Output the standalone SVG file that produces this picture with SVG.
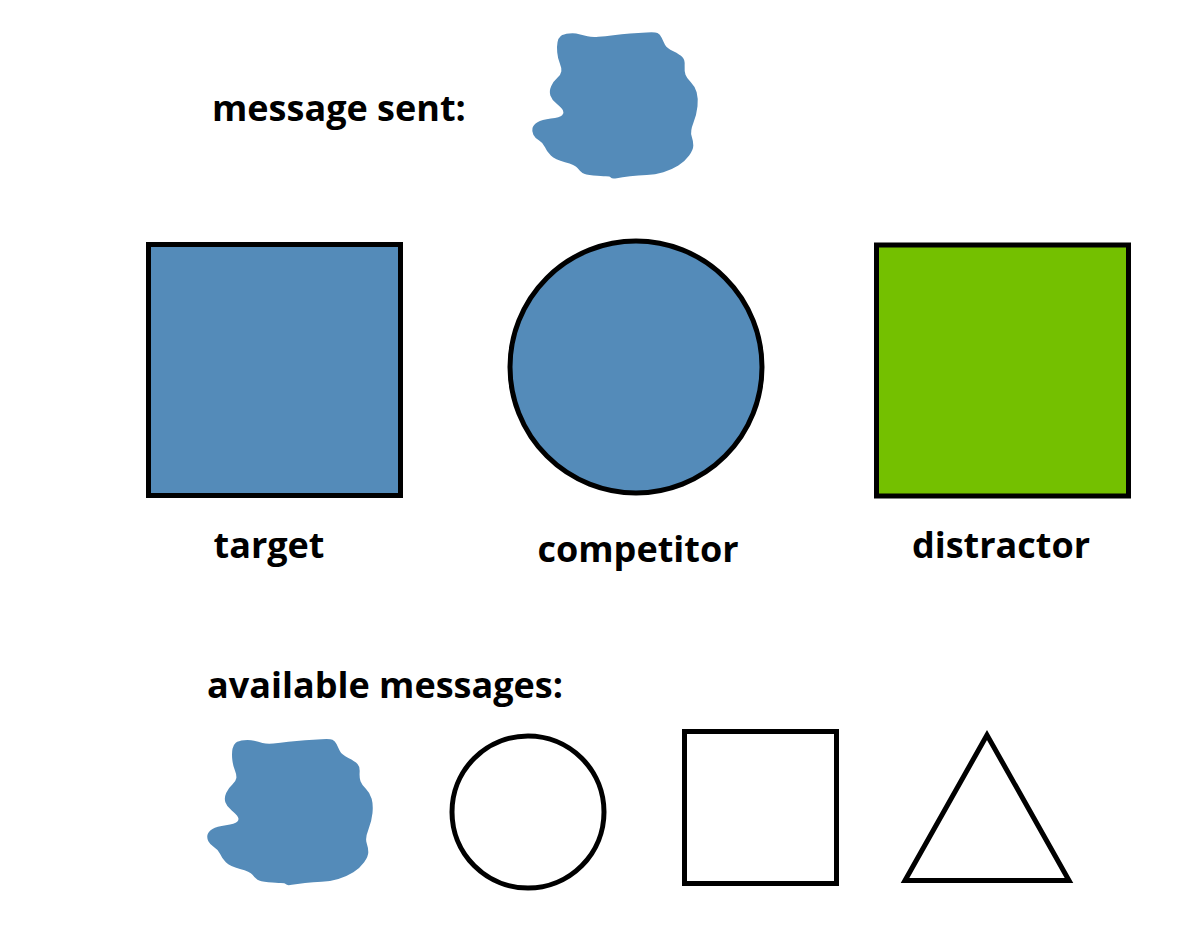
<svg xmlns="http://www.w3.org/2000/svg" xmlns:xlink="http://www.w3.org/1999/xlink" width="1180" height="949" viewBox="0 0 1180 949">
<style>
.lbl{font-family:"Open Sans","Liberation Sans",sans-serif;font-weight:700;font-size:36px;fill:#000}
.shape{stroke:#000;stroke-width:5}
.blue{fill:#548bb9}
.green{fill:#74c000}
.empty{fill:#fff}
</style>
<defs>
<path id="blob" d="M557.5,42.15 Q558.3,38 560.8,36 Q563.3,34 569.15,33.5 Q575,33 579.15,34.15 Q583.3,35.3 587.5,36.3 Q591.7,37.3 598.35,36.8 Q605,36.3 613.35,35.15 Q621.7,34 630,33.5 Q638.3,33 646.65,32.5 Q655,32 657.5,33 Q660,34 661.65,37.65 Q663.3,41.3 665,44.65 Q666.7,48 673.35,51.35 Q680,54.7 682.5,57.2 Q685,59.7 684.65,65.5 Q684.3,71.3 685.5,74.65 Q686.7,78 690.85,82.15 Q695,86.3 696.65,92.15 Q698.3,98 697.5,106.35 Q696.7,114.7 693.35,123 Q690,131.3 691.65,136.3 Q693.3,141.3 693.3,145.5 Q693.3,149.7 689.15,155.5 Q685,161.3 678.35,165.5 Q671.7,169.7 663.35,172.2 Q655,174.7 646.65,175 Q638.3,175.3 630,176.3 Q621.7,177.3 616.85,178.15 Q612,179 611,177.65 Q610,176.3 605.85,176.3 Q601.7,176.3 593.35,175.5 Q585,174.7 582.5,173 Q580,171.3 577.5,168 Q575,164.7 565,162.2 Q555,159.7 550.85,155.5 Q546.7,151.3 545,147.15 Q543.3,143 539.15,140.5 Q535,138 533.35,134.65 Q531.7,131.3 532.5,128 Q533.3,124.7 537.5,122.2 Q541.7,119.7 550.85,118.5 Q560,117.3 562.15,115.15 Q564.3,113 563,110.5 Q561.7,108 556.7,103.85 Q551.7,99.7 550.35,95.5 Q549,91.3 551.15,86.3 Q553.3,81.3 557.15,78 Q561,74.7 561.35,71.35 Q561.7,68 559.7,63 Q557.7,58 557.2,52.15 Q556.7,46.3 557.5,42.15 Z"/>
</defs>
<g id="message-sent">
<text class="lbl" x="212" y="121">message sent:</text>
<use id="sent-blob" xlink:href="#blob" href="#blob" class="blue"/>
</g>
<g id="target">
<rect class="shape blue" x="148.5" y="244.5" width="252" height="251"/>
<text class="lbl" x="269" y="558" text-anchor="middle">target</text>
</g>
<g id="competitor">
<circle class="shape blue" cx="636" cy="367" r="126"/>
<text class="lbl" x="638" y="562" text-anchor="middle">competitor</text>
</g>
<g id="distractor">
<rect class="shape green" x="876.5" y="245" width="252" height="251"/>
<text class="lbl" x="1001" y="558" text-anchor="middle">distractor</text>
</g>
<g id="available-messages">
<text class="lbl" x="207" y="698">available messages:</text>
</g>
<g id="msg-blob">
<use xlink:href="#blob" href="#blob" class="blue" transform="translate(-325,706.7)"/>
</g>
<g id="msg-circle">
<circle class="shape empty" cx="528" cy="812" r="76"/>
</g>
<g id="msg-square">
<rect class="shape empty" x="684.5" y="731.5" width="152" height="152"/>
</g>
<g id="msg-triangle">
<polygon class="shape empty" points="987,735 905,880.5 1069,880.5"/>
</g>
<g id="connectors"/>
</svg>
